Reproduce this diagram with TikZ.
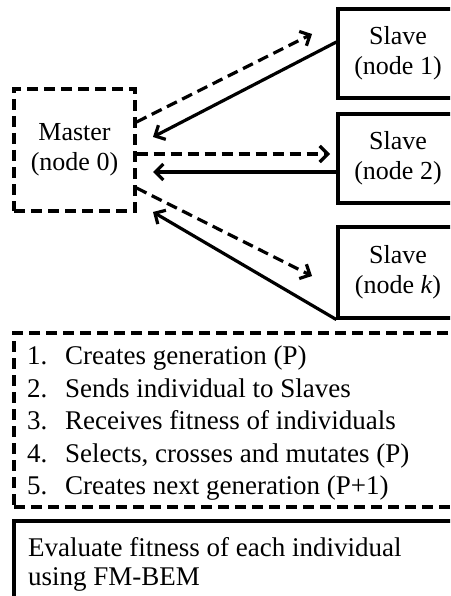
\documentclass[tikz,border=0pt]{standalone}
\usepackage{fontspec}
\setmainfont{Liberation Serif}
\usetikzlibrary{arrows.meta}
\begin{document}
\begin{tikzpicture}[x=1pt,y=-1pt,
  ln/.style={line width=3.2pt},
  dsh/.style={ln,dash pattern=on 11pt off 6pt},
  box/.style={ln,draw,rectangle,inner sep=0pt,align=center,font=\fontsize{26}{30}\selectfont},
  arr/.style={-{Straight Barb[length=8pt,width=16pt,line width=3.2pt]}},
  txt/.style={anchor=base west,inner sep=0pt,font=\fontsize{27}{32.5}\selectfont}
]
\useasboundingbox (0,0) rectangle (450,596);
\clip (0,0) rectangle (450,596);
% boxes
\node[box,dsh,minimum width=121pt,minimum height=122pt] (master) at (74.5,150) {Master\\(node 0)};
\node[box,minimum width=120pt,minimum height=89pt] (slave1) at (398,53.5) {Slave\\(node 1)};
\node[box,minimum width=120pt,minimum height=89pt] (slave2) at (398,158.5) {Slave\\(node 2)};
\node[box,minimum width=120pt,minimum height=91pt] (slavek) at (398,272.5) {Slave\\(node \textit{k})};
% free ends
\coordinate (d1) at (312,34);
\coordinate (d2) at (330,154);
\coordinate (dk) at (312,276);
\coordinate (s1) at (153,137);
\coordinate (s2) at (153,172);
\coordinate (sk) at (153,212);
% connectors
\draw[dsh,arr] ([yshift=28pt]master.east) -- (d1);
\draw[dsh,arr] ([yshift=-4pt]master.east) -- (d2);
\draw[dsh,arr] ([yshift=-38pt]master.east) -- (dk);
\draw[ln,arr] ([yshift=11.5pt]slave1.west) -- (s1);
\draw[ln,arr] ([yshift=-13.5pt]slave2.west) -- (s2);
\draw[ln,arr] (slavek.south west) -- (sk);
% list box
\node[dsh,draw,rectangle,inner sep=0pt,minimum width=470pt,minimum height=174pt] (list) at (249,420) {};
\node[txt] (i1) at (27,364) {\makebox[38pt][l]{1.}Creates generation (P)};
\node[txt] (i2) at (27,397) {\makebox[38pt][l]{2.}Sends individual to Slaves};
\node[txt] (i3) at (27,429) {\makebox[38pt][l]{3.}Receives fitness of individuals};
\node[txt] (i4) at (27,462) {\makebox[38pt][l]{4.}Selects, crosses and mutates (P)};
\node[txt] (i5) at (27,494) {\makebox[38pt][l]{5.}Creates next generation (P+1)};
% bottom box
\node[ln,draw,rectangle,inner sep=0pt,minimum width=470pt,minimum height=100pt] (eval) at (249,571) {};
\node[txt] (e1) at (28,556) {Evaluate fitness of each individual};
\node[txt] (e2) at (28,585) {using FM-BEM};
\end{tikzpicture}
\end{document}
